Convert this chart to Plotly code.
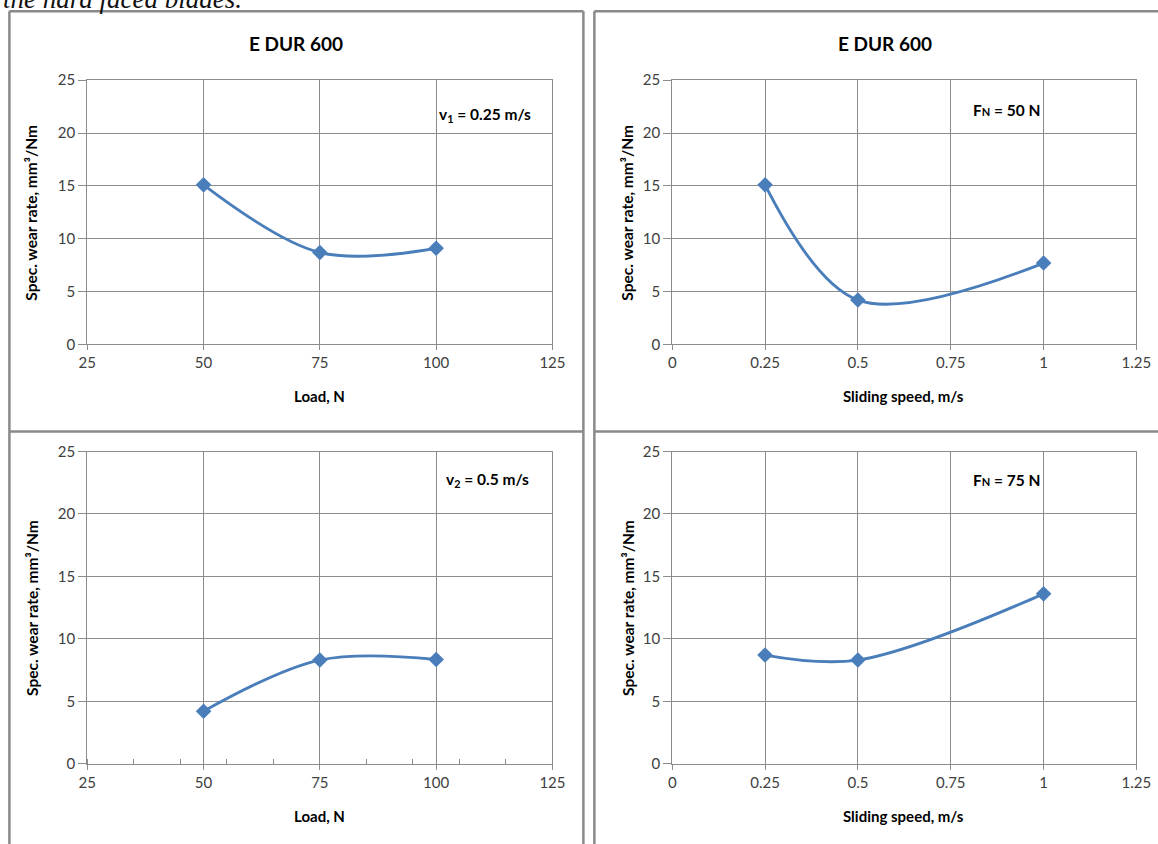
import plotly.graph_objects as go

W, H = 1158, 844

# ---- data ----
load_n = [50, 75, 100]
wear_v1 = [15.1, 8.7, 9.1]
wear_v2 = [4.2, 8.3, 8.35]
speed_ms = [0.25, 0.5, 1.0]
wear_f50 = [15.1, 4.2, 7.7]
wear_f75 = [8.7, 8.3, 13.6]

load_ticks = [25, 50, 75, 100, 125]
speed_ticks = [0, 0.25, 0.5, 0.75, 1, 1.25]
speed_ticklabels = ["0", "0.25", "0.5", "0.75", "1", "1.25"]
y_ticks = [0, 5, 10, 15, 20, 25]

FONT = "Lato"
BLUE = "#4A7EBB"
GRID = "#8C8C8C"

# layout helpers: positions given in reference pixels, compensated for the
# small scale/offset observed in the rendered photograph
SX, OX = 0.981, 7.6
SY, OY = 0.978, 9.8

def px_x(p):
    return ((p - OX) / SX) / W

def px_y(p):
    return 1 - ((p - OY) / SY) / H

fig = go.Figure()

panels = [
    ("x", "y", load_n, wear_v1, (86, 552), (80, 344)),
    ("x2", "y2", speed_ms, wear_f50, (672, 1137), (80, 344)),
    ("x3", "y3", load_n, wear_v2, (86, 552), (451, 763)),
    ("x4", "y4", speed_ms, wear_f75, (672, 1137), (451, 763)),
]

for xa, ya, xs, ys, _, _ in panels:
    fig.add_trace(go.Scatter(
        x=xs, y=ys, xaxis=xa, yaxis=ya, mode="lines+markers",
        line=dict(color=BLUE, width=2.9, shape="spline", smoothing=1.0),
        marker=dict(symbol="diamond", size=12, color=BLUE,
                    line=dict(color=BLUE, width=0)),
        showlegend=False, hoverinfo="x+y"))

layout = dict(width=W, height=H, margin=dict(l=0, r=0, t=0, b=0, pad=0),
              paper_bgcolor="white", plot_bgcolor="white",
              font=dict(family=FONT, color="#404040", size=15))

for i, (xa, ya, xs, ys, xr, yr) in enumerate(panels):
    xkey = "xaxis" if xa == "x" else "xaxis" + xa[1:]
    ykey = "yaxis" if ya == "y" else "yaxis" + ya[1:]
    is_load = xs is load_n
    xax = dict(domain=[px_x(xr[0]), px_x(xr[1])], anchor=ya,
               showgrid=True, gridcolor=GRID, gridwidth=1,
               showline=True, linecolor=GRID, linewidth=1, mirror=True,
               ticks="outside", ticklen=5, tickcolor=GRID,
               zeroline=False, tickfont=dict(size=15, color="#404040", family=FONT))
    if is_load:
        xax.update(range=[25, 125], tickvals=load_ticks)
    else:
        xax.update(range=[0, 1.25], tickvals=speed_ticks, ticktext=speed_ticklabels)
    if i == 2:
        xax["minor"] = dict(ticks="inside", ticklen=5, tickcolor=GRID,
                            tick0=35, dtick=10, showgrid=False)
    yax = dict(domain=[px_y(yr[1]), px_y(yr[0])], anchor=xa, range=[0, 25],
               tickvals=y_ticks, showgrid=True, gridcolor=GRID, gridwidth=1,
               showline=True, linecolor=GRID, linewidth=1, mirror=True,
               ticks="outside", ticklen=8, tickcolor=GRID, zeroline=False,
               tickfont=dict(size=15, color="#404040", family=FONT))
    layout[xkey] = xax
    layout[ykey] = yax

fig.update_layout(**layout)

ann = []
def add_text(text, x, y, size=14, bold=True, angle=0, color="black", xanchor="center",
             family=FONT, italic=False):
    t = f"<b>{text}</b>" if bold else text
    if italic:
        t = f"<i>{t}</i>"
    ann.append(dict(text=t, x=px_x(x), y=px_y(y), xref="paper", yref="paper",
                    showarrow=False, textangle=angle, xanchor=xanchor, yanchor="middle",
                    font=dict(size=size, color=color, family=family)))

# header text (cut off at top, as in the reference)
add_text("the hard faced blades.", 0, -1, size=27, bold=False, italic=True,
         xanchor="left", family="Liberation Serif", color="#111111")

# titles
add_text("E DUR 600", 295, 43, size=19)
add_text("E DUR 600", 885, 43, size=19)

# axis titles
for cx, cy in [(319, 396), (319, 815)]:
    add_text("Load, N", cx, cy, size=15)
for cx, cy in [(904, 396), (904, 815)]:
    add_text("Sliding speed, m/s", cx, cy, size=15)
for cx, cy in [(30, 212), (30, 607), (627, 212), (627, 607)]:
    add_text("Spec. wear rate, mm³/Nm", cx, cy, size=15.5, angle=-90)

# in-plot labels
add_text("v<sub>1</sub> = 0.25 m/s", 484, 115, size=15.5)
add_text("v<sub>2</sub> = 0.5 m/s", 487, 479, size=15.5)
add_text("F<span style='font-size:11px'>N</span> = 50 N", 1007, 110, size=15.5)
add_text("F<span style='font-size:11px'>N</span> = 75 N", 1007, 479, size=15.5)

fig.update_layout(annotations=ann)

# panel borders
BORDER = "#8A8A8A"
shapes = []
def line(x0, y0, x1, y1, w=2.5):
    shapes.append(dict(type="line", xref="paper", yref="paper",
                       x0=px_x(x0), y0=px_y(y0), x1=px_x(x1), y1=px_y(y1),
                       line=dict(color=BORDER, width=w)))
line(8, 11, 583, 11)
line(8, 11, 8, 860)
line(583, 11, 583, 860)
line(8, 431, 583, 431)
line(594, 11, 1180, 11)
line(594, 11, 594, 860)
line(594, 431, 1180, 431)
fig.update_layout(shapes=shapes)

post = ("document.body.style.margin='0';document.body.style.padding='0';"
        "document.documentElement.style.overflow='hidden';"
        "document.body.style.overflow='hidden';")
fig.write_html("out.html", post_script=post, config={"displayModeBar": False})
